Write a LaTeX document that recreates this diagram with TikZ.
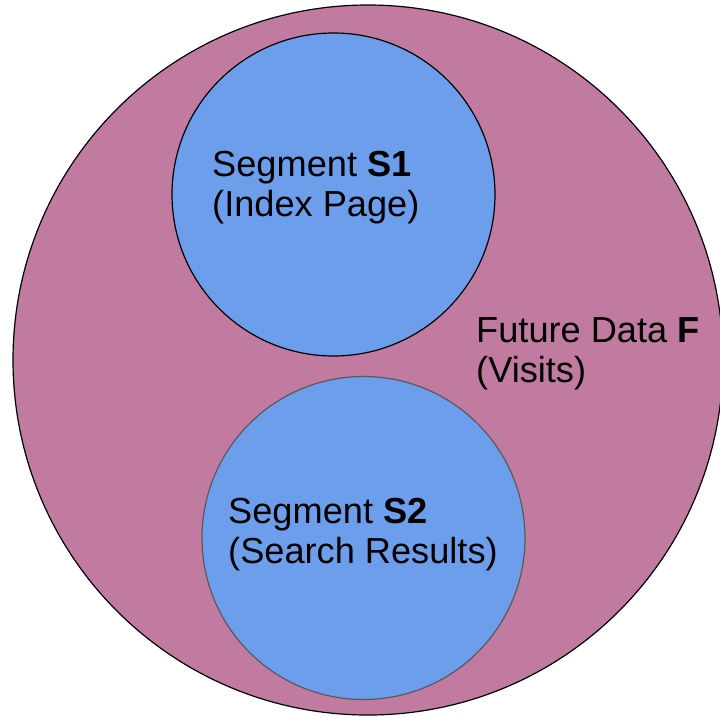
\documentclass[tikz,border=0pt]{standalone}
\usepackage{fontspec}
\setmainfont{Liberation Sans}
\definecolor{futurepink}{HTML}{C27BA0}
\definecolor{segblue}{HTML}{6D9EEB}
\definecolor{seggray}{HTML}{595959}

\begin{document}
\begin{tikzpicture}[x=1pt,y=-1pt,
  seg/.style={circle,fill=segblue,line width=1.2pt,minimum size=323pt,inner sep=0pt},
  txt/.style={anchor=base west,align=left,inner sep=0pt,font=\fontsize{36.2}{40}\selectfont}]
  \useasboundingbox (0,0) rectangle (720,716);
  \node[circle,draw=black,fill=futurepink,line width=1.2pt,minimum size=710pt,inner sep=0pt] (F) at (368,360) {};
  \node[seg,draw=black] (S1) at (333.5,194.5) {};
  \node[seg,draw=seggray] (S2) at (363.5,538) {};
  % base anchor sits on the second line
  \node[txt] (s1txt) at (212,216) {Segment \textbf{S1}\\(Index Page)};
  \node[txt] (s2txt) at (228,563) {Segment \textbf{S2}\\(Search Results)};
  \node[txt] (ftxt) at (476,382) {Future Data \textbf{F}\\(Visits)};
\end{tikzpicture}
\end{document}
